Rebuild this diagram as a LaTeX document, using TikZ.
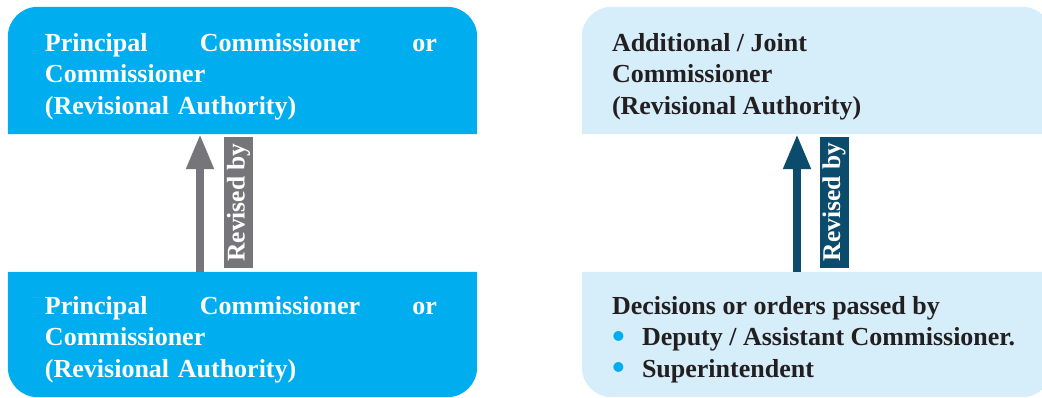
\documentclass[tikz,border=0pt]{standalone}
\usepackage{fontspec}
\setmainfont{Liberation Serif}
\usetikzlibrary{positioning,backgrounds,arrows.meta}

\definecolor{boxcyan}{HTML}{00AEEF}
\definecolor{boxpale}{HTML}{D6EDFA}
\definecolor{revgrey}{HTML}{76767A}
\definecolor{revteal}{HTML}{0B4B6B}
\definecolor{inkdark}{HTML}{231F20}

\tikzset{
  box/.style={minimum height=#1, inner sep=0pt},
  boxtext/.style={inner sep=0pt, align=left,
    font=\bfseries\fontsize{26}{31.5}\selectfont},
  revarrow/.style={draw=#1, line width=8pt,
    -{Triangle[width=26pt,length=35pt]}},
  revlabel/.style={fill=#1, text=white, rotate=90, inner sep=0pt,
    minimum width=131pt, minimum height=29pt,
    font=\bfseries\fontsize{25.5}{30}\selectfont}
}
\newcommand{\bul}{\makebox[30pt][l]{\textcolor{boxcyan}{\raisebox{-2.6pt}[0pt][0pt]{\scalebox{1.4}{\textbullet}}}}}

\begin{document}
\begin{tikzpicture}[x=1pt,y=-1pt,line join=round]
\useasboundingbox (0,0) rectangle (1042,397);

% --- boxes (left: cyan, right: pale) ---
\node[box=127pt, minimum width=469pt] (lt) at (242.5,70.5) {};
\node[box=125pt, minimum width=469pt] (lb) at (242.5,334.5) {};
\node[box=127pt, minimum width=470pt] (rt) at (817,70.5) {};
\node[box=125pt, minimum width=470pt] (rb) at (817,334.5) {};

% top boxes round at the top, bottom boxes at the bottom
\begin{scope}[on background layer]
  \fill[boxcyan] (lt.south west) [rounded corners=30pt] |- (lt.north)
    -| (lt.east) [sharp corners] -- (lt.south east) -- cycle;
  \fill[boxcyan] (lb.north west) [rounded corners=30pt] |- (lb.south)
    -| (lb.east) [sharp corners] -- (lb.north east) -- cycle;
  \fill[boxpale] (rt.south west) [rounded corners=30pt] |- (rt.north)
    -| (rt.east) [sharp corners] -- (rt.south east) -- cycle;
  \fill[boxpale] (rb.north west) [rounded corners=30pt] |- (rb.south)
    -| (rb.east) [sharp corners] -- (rb.north east) -- cycle;
\end{scope}

% --- texts ---
\node[boxtext, text=white, text width=392pt, below right=26pt and 37pt of lt.north west]
  (lttext) {Principal\hfill Commissioner\hfill or\\Commissioner\\(Revisional Authority)};
\node[boxtext, text=white, text width=392pt, below right=24pt and 37pt of lb.north west]
  (lbtext) {Principal\hfill Commissioner\hfill or\\Commissioner\\(Revisional Authority)};
\node[boxtext, text=inkdark, below right=26pt and 30pt of rt.north west]
  (rttext) {Additional / Joint\\Commissioner\\(Revisional Authority)};
\node[boxtext, text=inkdark, below right=24pt and 30pt of rb.north west]
  (rbtext) {Decisions or orders passed by\\
    \bul Deputy / Assistant Commissioner.\\
    \bul Superintendent};

% --- revision arrows ---
\draw[revarrow=revgrey] ([xshift=-42.5pt]lb.north) -- ([xshift=-42.5pt]lt.south);
\draw[revarrow=revteal] ([xshift=-20pt]rb.north) -- ([xshift=-20pt]rt.south);

\node[revlabel=revgrey] (lrev) at (238.5,202.5) {Revised by};
\node[revlabel=revteal] (rrev) at (834,202) {Revised by};

\end{tikzpicture}
\end{document}
